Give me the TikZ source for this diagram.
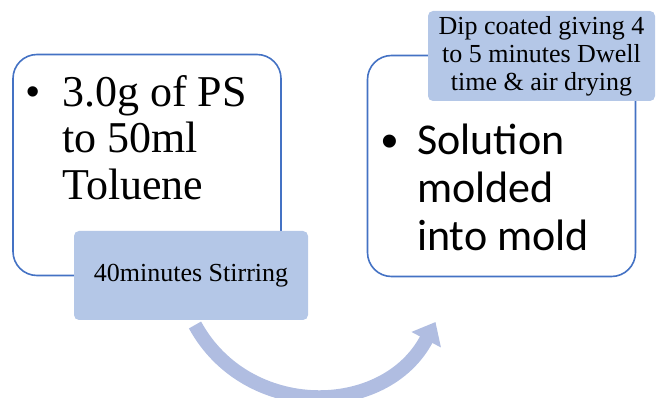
\documentclass[tikz,border=0pt]{standalone}
\usepackage{fontspec}
\setmainfont{Liberation Serif}
\newfontfamily\calibrifont{Carlito}
\newfontfamily\arialfont{Liberation Sans}
\usetikzlibrary{arrows.meta}

\definecolor{frameblue}{HTML}{4472C4}
\definecolor{tagblue}{HTML}{B4C7E7}
\definecolor{arcblue}{HTML}{B0BDE1}

\begin{document}
\begin{tikzpicture}[x=1pt,y=-1pt,
  stepframe/.style={draw=frameblue, line width=1.6pt, rounded corners=24pt,
    fill=white, minimum width=268pt, minimum height=221pt, inner sep=0pt},
  tagbox/.style={fill=tagblue, rounded corners=5pt, inner sep=0pt,
    font=\fontsize{26}{28}\selectfont, align=center},
  bigtext/.style={anchor=north west, inner sep=0pt, align=left},
  dot/.style={inner sep=0pt, anchor=base}]
  \useasboundingbox (0,0) rectangle (657,398);

  % curved arrow under the boxes
  \coordinate (arcstart) at (195,325);
  \coordinate (arcend) at (435.5,322);
  \draw[arcblue, line width=14pt, -{Triangle[length=20pt,width=32pt]}]
    (arcstart) .. controls (247,420) and (385,418) .. (arcend);

  % first step
  \node[stepframe] (prep) at (147,165) {};
  \node[dot, font=\arialfont\fontsize{38}{38}\selectfont] (prepdot) at (33,104.5) {\textbullet};
  \node[bigtext, font=\fontsize{44}{46.5}\selectfont] (preptext) at (62,75)
    {3.0g of PS\\to 50ml\\Toluene};
  \node[tagbox, minimum width=234pt, minimum height=89pt] (stir) at (191,275.5)
    {40minutes Stirring};

  % second step
  \node[stepframe] (mold) at (501.5,166) {};
  \node[dot, font=\arialfont\fontsize{48}{48}\selectfont] (molddot) at (390,158) {\textbullet};
  \node[bigtext, font=\calibrifont\fontsize{44}{48}\selectfont] (moldtext) at (417,124)
    {Solution\\molded\\into mold};
  \node[tagbox, minimum width=227pt, minimum height=90pt] (dip) at (541.5,56)
    {Dip coated giving 4\\to 5 minutes Dwell\\time \& air drying};
\end{tikzpicture}
\end{document}
